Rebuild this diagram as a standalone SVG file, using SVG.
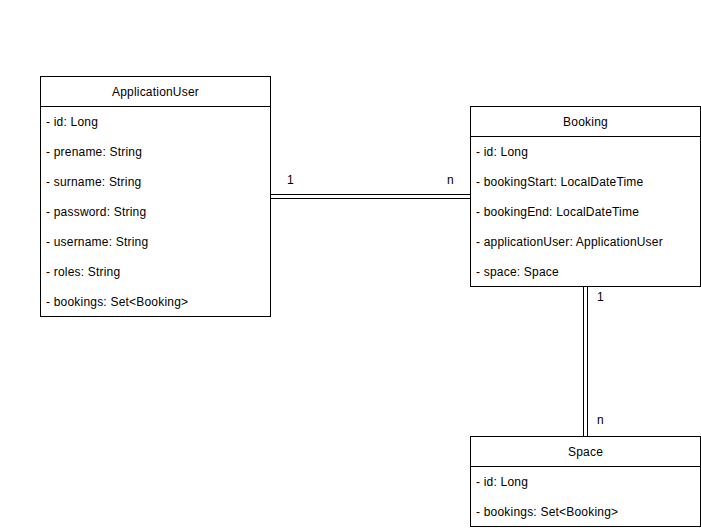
<svg xmlns="http://www.w3.org/2000/svg" width="701" height="528" viewBox="0 0 701 528">
<style>
.box{fill:#fff;stroke:#000;stroke-width:1}
.t{font-family:"Liberation Sans",Arial,sans-serif;font-size:12px;fill:#000;letter-spacing:0.2px}
.h{text-anchor:middle}
.c{fill:none;stroke:#000;stroke-width:1}
</style>
<rect width="701" height="528" fill="#fff"/>
<g id="connectors">
<line class="c" x1="270.5" y1="194.5" x2="470.5" y2="194.5"/>
<line class="c" x1="270.5" y1="198.5" x2="470.5" y2="198.5"/>
<text class="t" x="287" y="184">1</text>
<text class="t" x="447" y="184">n</text>
<line class="c" x1="583.5" y1="286.5" x2="583.5" y2="436.5"/>
<line class="c" x1="587.5" y1="286.5" x2="587.5" y2="436.5"/>
<text class="t" x="597" y="301">1</text>
<text class="t" x="597" y="424">n</text>
</g>
<g id="ApplicationUser">
<rect class="box" x="40.5" y="76.5" width="230" height="240"/>
<line class="c" x1="40.5" y1="106.5" x2="270.5" y2="106.5"/>
<text class="t h" x="155.5" y="96">ApplicationUser</text>
<text class="t" x="46" y="126">- id: Long</text>
<text class="t" x="46" y="156">- prename: String</text>
<text class="t" x="46" y="186">- surname: String</text>
<text class="t" x="46" y="216">- password: String</text>
<text class="t" x="46" y="246">- username: String</text>
<text class="t" x="46" y="276">- roles: String</text>
<text class="t" x="46" y="306">- bookings: Set&lt;Booking&gt;</text>
</g>
<g id="Booking">
<rect class="box" x="470.5" y="106.5" width="230" height="180"/>
<line class="c" x1="470.5" y1="136.5" x2="700.5" y2="136.5"/>
<text class="t h" x="585.5" y="126">Booking</text>
<text class="t" x="476" y="156">- id: Long</text>
<text class="t" x="476" y="186">- bookingStart: LocalDateTime</text>
<text class="t" x="476" y="216">- bookingEnd: LocalDateTime</text>
<text class="t" x="476" y="246">- applicationUser: ApplicationUser</text>
<text class="t" x="476" y="276">- space: Space</text>
</g>
<g id="Space">
<rect class="box" x="470.5" y="436.5" width="230" height="90"/>
<line class="c" x1="470.5" y1="466.5" x2="700.5" y2="466.5"/>
<text class="t h" x="585.5" y="456">Space</text>
<text class="t" x="476" y="486">- id: Long</text>
<text class="t" x="476" y="516">- bookings: Set&lt;Booking&gt;</text>
</g>
</svg>
